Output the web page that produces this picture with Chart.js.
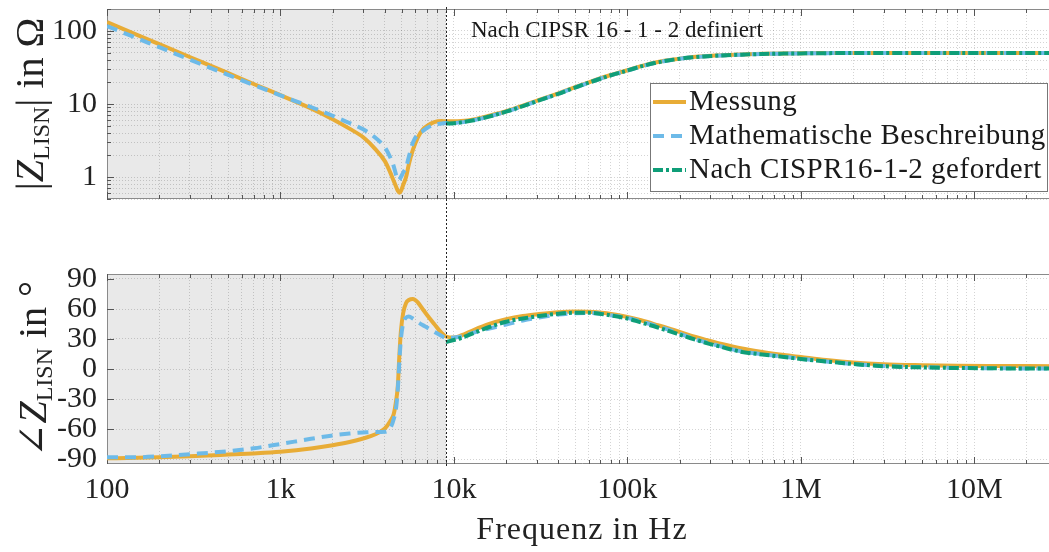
<!DOCTYPE html>
<html lang="de">
<head>
<meta charset="UTF-8">
<title>Impedanz der Netznachbildung</title>
<script src="https://cdn.jsdelivr.net/npm/chart.js"></script>
<style>
  html, body { margin: 0; padding: 0; background: #fff; overflow: hidden; }
  #wrap { position: relative; width: 1049px; height: 552px; overflow: hidden; }
  canvas { position: absolute; left: 0; }
  #magCanvas { top: 0; }
  #phaseCanvas { top: 240px; }
</style>
</head>
<body>
<div id="wrap">
  <canvas id="magCanvas" width="1062" height="240"></canvas>
  <canvas id="phaseCanvas" width="1062" height="312"></canvas>
</div>
<script>
// Frequenzstuetzstellen (Hz), gemeinsam fuer alle Kurven
const freqHz = [100, 150, 200, 300, 500, 700, 1000, 1500, 2000, 2500,
  3000, 3500, 4000, 4300, 4500, 4650, 4750, 4850, 4950, 5100,
  5300, 5500, 5800, 6200, 6600, 7000, 7700, 8500, 9000, 10000,
  11000, 13000, 16000, 20000, 25000, 31000, 40000, 50000, 60000, 76000,
  1e5, 1.2e5, 1.5e5, 1.85e5, 2.3e5, 2.9e5, 3.5e5, 4.5e5, 6e5, 8e5,
  1e6, 1.4e6, 2e6, 3e6, 5e6, 8e6, 1.2e7, 2e7, 3e7];

// |Z_LISN| in Ohm
const magMessung = [132, 88, 66, 44, 26.4, 18.8, 13.2, 8.7, 6.2, 4.6,
  3.5, 2.45, 1.65, 1.15, 0.88, 0.73, 0.65, 0.61, 0.64, 0.78,
  1.0, 1.5, 2.35, 3.5, 4.45, 5.0, 5.65, 5.85, 5.8, 5.8,
  5.85, 6.15, 6.9, 7.95, 9.5, 11.4, 14.0, 17.0, 19.8, 24.0,
  29.0, 33.0, 37.5, 40.7, 43.5, 45.3, 46.5, 47.6, 48.6, 49.2,
  49.5, 49.8, 50, 50, 50, 50, 50, 50, 50];
const magModell = [117, 79, 60, 40.5, 25, 18.2, 13.1, 9.1, 6.9, 5.5,
  4.5, 3.5, 2.55, 1.85, 1.4, 1.05, 0.9, 0.92, 1.0, 1.15,
  1.35, 1.9, 2.95, 3.9, 4.25, 4.7, 5.2, 5.4, 5.5, 5.5,
  5.6, 6.0, 6.75, 7.85, 9.35, 11.2, 13.8, 16.8, 19.6, 23.7,
  28.7, 32.7, 37.2, 40.5, 43.3, 45.1, 46.3, 47.4, 48.4, 49.0,
  49.3, 49.7, 49.9, 50, 50, 50, 50, 50, 50];
const magCispr = [null, null, null, null, null, null, null, null, null, null,
  null, null, null, null, null, null, null, null, null, null,
  null, null, null, null, null, null, null, null, 5.4, 5.45,
  5.6, 6.0, 6.75, 7.85, 9.35, 11.2, 13.8, 16.8, 19.6, 23.7,
  28.7, 32.7, 37.2, 40.5, 43.3, 45.1, 46.3, 47.4, 48.4, 49.0,
  49.3, 49.7, 49.9, 50, 50, 50, 50, 50, 50];

// Phase von Z_LISN in Grad
const phaseMessung = [-89.3, -88.8, -88.3, -87.3, -85.6, -84.4, -82.7, -79.5, -76.2, -73,
  -69.5, -65.5, -59.5, -52, -45, -31, -17, 14, 38, 56,
  66, 69, 70, 66.5, 60, 54, 45, 36, 32.5, 31.5,
  33.5, 39, 45, 49.7, 53, 55, 56.8, 57.4, 57.3, 55.7,
  52, 48.7, 43.8, 39, 33.5, 28.7, 25, 20.7, 17, 14,
  12, 9, 6.5, 4.8, 3.8, 3.2, 3.0, 2.9, 2.8];
const phaseModell = [-88.3, -88.3, -87.3, -85.2, -82.2, -79.3, -75, -69.8, -66.5, -64.5,
  -63.5, -62.9, -62.7, -59, -50, -38, -20, 8, 30, 45.5,
  51.5, 52.5, 50.5, 47, 44, 41.5, 37.3, 33, 31, 31.5,
  32.5, 36.3, 40.5, 44.5, 48.5, 51.5, 54.5, 55.8, 56, 54.3,
  51, 47.5, 42.5, 37.5, 31.5, 26.2, 22.5, 17.8, 14.8, 12.3,
  10.3, 7.6, 5.0, 3.0, 1.8, 1.1, 0.8, 0.6, 0.6];
const phaseCispr = [null, null, null, null, null, null, null, null, null, null,
  null, null, null, null, null, null, null, null, null, null,
  null, null, null, null, null, null, null, null, 27, 29,
  31, 36, 42, 47.3, 50.5, 53, 55.3, 56.3, 56.2, 54.2,
  50.5, 46.5, 41.5, 36.3, 31, 25.7, 22, 17.3, 14.5, 12,
  10, 7.5, 5, 2.8, 1.6, 1.0, 0.7, 0.5, 0.5];

const seriesLabels = ['Messung', 'Mathematische Beschreibung', 'Nach CISPR16-1-2 gefordert'];
const cisprStartHz = 9000;

const xTickValues = [1e2, 1e3, 1e4, 1e5, 1e6, 1e7];
const xTickLabels = ['100', '1k', '10k', '100k', '1M', '10M'];
const magTickValues = [1, 10, 100];
const magTickLabels = ['1', '10', '100'];
const phaseTickValues = [-90, -60, -30, 0, 30, 60, 90];
const phaseTickLabels = ['-90', '-60', '-30', '0', '30', '60', '90'];

const serif = '"Liberation Serif", "DejaVu Serif", serif';
const ink = '#222';
const gridColor = 'rgba(0,0,0,0.17)';
const lineStyles = [
  { color: '#E8AC36', dash: [], order: 3 },
  { color: '#6DBAE8', dash: [11, 7], order: 2 },
  { color: '#0F9E78', dash: [10, 3, 3, 3], order: 1 }
];

// alle Dekadenstufen 1..9 zwischen min und max (Gitterlinien)
function logSteps(min, max) {
  const out = [];
  for (let e = Math.floor(Math.log10(min)); e <= Math.ceil(Math.log10(max)); e++) {
    for (let m = 1; m <= 9; m++) {
      const v = parseFloat((m * Math.pow(10, e)).toPrecision(6));
      if (v >= min && v <= max) out.push(v);
    }
  }
  return out;
}

function labelFor(v, values, labels) {
  const i = values.findIndex(t => Math.abs(v - t) <= Math.abs(t) * 1e-9);
  return i >= 0 ? labels[i] : '';
}

function makeDatasets(values) {
  return values.map((vals, k) => ({
    label: seriesLabels[k],
    data: freqHz.map((f, i) => ({ x: f, y: vals[i] })),
    borderColor: lineStyles[k].color,
    borderDash: lineStyles[k].dash,
    borderWidth: 4,
    order: lineStyles[k].order,
    pointRadius: 0,
    fill: false,
    cubicInterpolationMode: 'monotone'
  }));
}

function xAxis(showLabels) {
  const grid = logSteps(100, 3e7);
  return {
    type: 'logarithmic',
    min: 100,
    max: 3e7,
    afterBuildTicks: s => { s.ticks = grid.map(v => ({ value: v })); },
    afterFit: s => { s.height = showLabels ? 88 : 0; s.paddingLeft = 0; s.paddingRight = 0; },
    grid: { color: gridColor, lineWidth: 1, drawTicks: false },
    border: { display: false, dash: [1, 2] },
    ticks: {
      display: showLabels, autoSkip: false, maxRotation: 0, padding: 8,
      color: ink, font: { family: serif, size: 30 },
      callback: v => labelFor(v, xTickValues, xTickLabels)
    }
  };
}

function yAxis(cfg) {
  return Object.assign({
    afterFit: s => { s.width = 107; s.paddingTop = 0; s.paddingBottom = 0; },
    grid: { color: gridColor, lineWidth: 1, drawTicks: false },
    border: { display: false, dash: [1, 2] },
    ticks: {
      autoSkip: false, padding: 10, color: ink, font: { family: serif, size: 30 },
      callback: v => labelFor(v, cfg.tickValues, cfg.tickLabels)
    }
  }, cfg.base);
}

// gedrehte Achsenbeschriftung aus mehreren Teilen (Index tiefgestellt)
function drawRotatedLabel(ctx, cx, cy, parts) {
  ctx.save();
  ctx.translate(cx, cy);
  ctx.rotate(-Math.PI / 2);
  ctx.fillStyle = ink;
  ctx.textAlign = 'left';
  ctx.textBaseline = 'alphabetic';
  let total = 0;
  parts.forEach(p => { ctx.font = p.font; p.w = ctx.measureText(p.text).width; total += p.w; });
  let pos = -total / 2;
  parts.forEach(p => { ctx.font = p.font; ctx.fillText(p.text, pos, p.dy || 0); pos += p.w; });
  ctx.restore();
}

function drawLegend(chart) {
  const { ctx, chartArea: a } = chart;
  const left = a.right - 407, top = a.top + 74, w = 397, h = 108;
  ctx.save();
  ctx.fillStyle = '#fff';
  ctx.fillRect(left, top, w, h);
  ctx.strokeStyle = '#777';
  ctx.lineWidth = 1;
  ctx.strokeRect(left + 0.5, top + 0.5, w, h);
  chart.data.datasets.forEach((ds, i) => {
    const y = top + 19 + i * 34;
    ctx.strokeStyle = ds.borderColor;
    ctx.lineWidth = ds.borderWidth;
    ctx.setLineDash(ds.borderDash);
    ctx.beginPath();
    ctx.moveTo(left + 3, y);
    ctx.lineTo(left + 36, y);
    ctx.stroke();
    ctx.setLineDash([]);
    ctx.fillStyle = '#1a1a1a';
    ctx.font = '29px ' + serif;
    ctx.letterSpacing = '0.5px';
    ctx.textBaseline = 'middle';
    ctx.fillText(ds.label, left + 39, y);
  });
  ctx.restore();
}

// Schattierung, Rahmen mit Innenstrichen, 9-kHz-Linie und Texte
function decor(opts) {
  return {
    id: 'decor',
    beforeDraw(chart) {
      const { ctx, chartArea: a, scales: { x } } = chart;
      const xc = x.getPixelForValue(cisprStartHz);
      ctx.save();
      ctx.fillStyle = '#e9e9e9';
      ctx.fillRect(a.left, a.top, xc - a.left, a.bottom - a.top);
      ctx.restore();
    },
    beforeDatasetsDraw(chart) {
      const { ctx, chartArea: a, scales: { x, y } } = chart;
      ctx.save();
      ctx.strokeStyle = '#8a8a8a';
      ctx.lineWidth = 1;
      ctx.beginPath();
      ctx.moveTo(a.right, a.top + 0.5); ctx.lineTo(a.left + 0.5, a.top + 0.5);
      ctx.lineTo(a.left + 0.5, a.bottom - 0.5); ctx.lineTo(a.right, a.bottom - 0.5);
      ctx.stroke();
      ctx.strokeStyle = '#555';
      ctx.beginPath();
      x.ticks.forEach(t => {
        const px = Math.round(x.getPixelForValue(t.value)) + 0.5;
        const len = xTickValues.includes(t.value) ? 7 : 4;
        ctx.moveTo(px, a.bottom); ctx.lineTo(px, a.bottom - len);
        ctx.moveTo(px, a.top); ctx.lineTo(px, a.top + len);
      });
      y.ticks.forEach(t => {
        const py = Math.round(y.getPixelForValue(t.value)) + 0.5;
        const len = opts.yMajor.includes(t.value) ? 7 : 4;
        ctx.moveTo(a.left, py); ctx.lineTo(a.left + len, py);
      });
      ctx.stroke();
      ctx.restore();
    },
    afterDatasetsDraw(chart) {
      const { ctx, chartArea: a, scales: { x } } = chart;
      const xc = Math.round(x.getPixelForValue(cisprStartHz)) + 0.5;
      ctx.save();
      ctx.strokeStyle = '#222';
      ctx.lineWidth = 1;
      ctx.setLineDash([2, 2]);
      ctx.beginPath();
      ctx.moveTo(xc, opts.lineFrom(a));
      ctx.lineTo(xc, opts.lineTo(a, chart));
      ctx.stroke();
      ctx.restore();
    },
    afterDraw(chart) { opts.draw(chart); }
  };
}

const magChart = new Chart(document.getElementById('magCanvas'), {
  type: 'line',
  data: { datasets: makeDatasets([magMessung, magModell, magCispr]) },
  options: {
    responsive: false,
    animation: false,
    events: [],
    layout: { padding: { top: 9, left: 0, right: 5, bottom: 41 } },
    scales: {
      x: xAxis(false),
      y: yAxis({
        tickValues: magTickValues, tickLabels: magTickLabels,
        base: {
          type: 'logarithmic', min: 0.5, max: 200,
          afterBuildTicks: s => { s.ticks = logSteps(0.5, 200).map(v => ({ value: v })); }
        }
      })
    },
    plugins: { legend: { display: false }, tooltip: { enabled: false } }
  },
  plugins: [decor({
    yMajor: magTickValues,
    lineFrom: a => a.top - 2,
    lineTo: (a, chart) => chart.height,
    draw(chart) {
      const { ctx, scales: { x } } = chart;
      const big = '40px ' + serif;
      drawRotatedLabel(ctx, 43, 104, [
        { text: '|', font: big },
        { text: 'Z', font: 'italic ' + big },
        { text: 'LISN', font: '24px ' + serif, dy: 6 },
        { text: '|', font: big },
        { text: ' in \u03A9', font: big }
      ]);
      ctx.save();
      ctx.fillStyle = '#1a1a1a';
      ctx.font = '23px ' + serif;
      ctx.textBaseline = 'middle';
      ctx.fillText('Nach CIPSR 16 - 1 - 2 definiert', x.getPixelForValue(cisprStartHz) + 25, 31);
      ctx.restore();
      drawLegend(chart);
    }
  })]
});

const phaseChart = new Chart(document.getElementById('phaseCanvas'), {
  type: 'line',
  data: { datasets: makeDatasets([phaseMessung, phaseModell, phaseCispr]) },
  options: {
    responsive: false,
    animation: false,
    events: [],
    layout: { padding: { top: 34, left: 0, right: 5, bottom: 0 } },
    scales: {
      x: xAxis(true),
      y: yAxis({
        tickValues: phaseTickValues, tickLabels: phaseTickLabels,
        base: {
          type: 'linear', min: -95, max: 95,
          afterBuildTicks: s => { s.ticks = phaseTickValues.map(v => ({ value: v })); }
        }
      })
    },
    plugins: { legend: { display: false }, tooltip: { enabled: false } }
  },
  plugins: [decor({
    yMajor: phaseTickValues,
    lineFrom: () => 0,
    lineTo: a => a.bottom + 3,
    draw(chart) {
      const { ctx, chartArea: a } = chart;
      const big = '40px ' + serif;
      drawRotatedLabel(ctx, 46, 129, [
        { text: '\u2220', font: big },
        { text: 'Z', font: 'italic ' + big },
        { text: 'LISN', font: '24px ' + serif, dy: 6 },
        { text: ' in \u00B0', font: big }
      ]);
      ctx.save();
      ctx.fillStyle = ink;
      ctx.font = '32px ' + serif;
      ctx.letterSpacing = '1px';
      ctx.textAlign = 'center';
      ctx.textBaseline = 'middle';
      ctx.fillText('Frequenz in Hz', (a.left + a.right) / 2, 291);
      ctx.restore();
    }
  })]
});
</script>
</body>
</html>
